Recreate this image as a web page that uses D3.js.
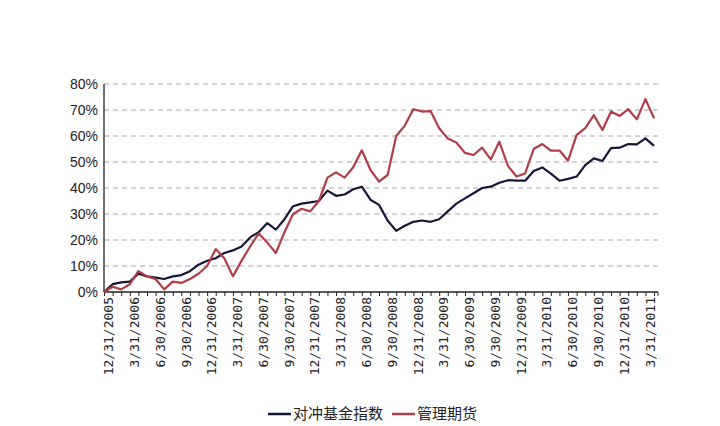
<!DOCTYPE html>
<html>
<head>
<meta charset="utf-8">
<script src="https://cdn.jsdelivr.net/npm/d3@7.9.0/dist/d3.min.js"></script>
<style>
  body { margin: 0; background: #fff; }
  svg { display: block; }
  .grid line { stroke: #a8a8a8; stroke-dasharray: 5,4; stroke-width: 1; }
  .ylab { font-family: "Liberation Sans Narrow", "Arial Narrow", sans-serif; font-size: 14px; fill: #222; }
  .xlab text { font-family: "DejaVu Sans Mono", monospace; font-size: 13px; fill: #222; }
  .legend text { font-family: "Noto Sans CJK SC", sans-serif; font-size: 15px; fill: #222; }
</style>
</head>
<body>
<div id="chart"></div>
<script>
// quarterly tick labels (every 3rd month, starting at month 0)
const tickLabels = ["12/31/2005", "3/31/2006", "6/30/2006", "9/30/2006", "12/31/2006",
  "3/31/2007", "6/30/2007", "9/30/2007", "12/31/2007", "3/31/2008", "6/30/2008",
  "9/30/2008", "12/31/2008", "3/31/2009", "6/30/2009", "9/30/2009", "12/31/2009",
  "3/31/2010", "6/30/2010", "9/30/2010", "12/31/2010", "3/31/2011"];

const seriesNames = ["对冲基金指数", "管理期货"];

// cumulative return in %, monthly from 12/2005 to 4/2011
const hedgeFund = [0, 3, 3.7, 4, 7, 6, 5.5, 5, 6, 6.5,
  8, 10.5, 12, 13, 15, 16, 17.5, 21, 23, 26.5,
  24, 28, 33, 34, 34.5, 35, 39, 37, 37.5, 39.5,
  40.5, 35.5, 33.5, 27.5, 23.5, 25.5, 27, 27.5, 27, 28,
  31, 34, 36, 38, 40, 40.5, 42, 43, 42.8, 42.8,
  46.5, 47.9, 45.5, 42.8, 43.5, 44.4, 48.8, 51.4, 50.4, 55.3,
  55.5, 56.9, 56.8, 59.1, 56.2];

const managedFutures = [0, 2, 1, 3, 8, 6, 5, 1, 4, 3.5,
  5, 7, 10, 16.5, 13, 6, 12, 17.5, 22.5, 19,
  15, 23, 30, 32, 31, 35, 44, 46, 44, 48,
  54.5, 47, 42.5, 45, 60, 64, 70.3, 69.4, 69.6, 63,
  59, 57.5, 53.5, 52.7, 55.5, 51, 57.8, 48.5, 44.4, 45.6,
  55, 56.9, 54.4, 54.4, 50.5, 60.4, 63, 68, 62.3, 69.4,
  67.7, 70.3, 66.4, 74.2, 66.8];

const yTicks = [0, 10, 20, 30, 40, 50, 60, 70, 80];

const W = 720, H = 426;
const margin = { top: 84, right: 62, bottom: 134, left: 104 };
const innerW = W - margin.left - margin.right;   // axis length
const innerH = H - margin.top - margin.bottom;
const step = 8.594;                                // px per month
const nMonths = hedgeFund.length;

const svg = d3.select("#chart").append("svg")
  .attr("width", W).attr("height", H);

const g = svg.append("g")
  .attr("transform", `translate(${margin.left},${margin.top})`);

const x = d3.scaleLinear().domain([0, nMonths - 1]).range([0, step * (nMonths - 1)]);
const y = d3.scaleLinear().domain([0, 80]).range([innerH, 0]);

// dashed grid lines
g.append("g").attr("class", "grid")
  .selectAll("line")
  .data(yTicks.filter(d => d > 0))
  .join("line")
  .attr("x1", 0).attr("x2", innerW)
  .attr("y1", d => y(d)).attr("y2", d => y(d));

// y labels
g.selectAll("text.ylab")
  .data(yTicks)
  .join("text")
  .attr("class", "ylab")
  .attr("x", -6)
  .attr("y", d => y(d))
  .attr("dy", "0.36em")
  .attr("text-anchor", "end")
  .text(d => d + "%");

// y axis line
g.append("line")
  .attr("x1", 0).attr("x2", 0)
  .attr("y1", 0).attr("y2", innerH)
  .attr("stroke", "#222").attr("stroke-width", 1.3);

// x axis with monthly ticks
const xAxis = d3.axisBottom(x)
  .tickValues(d3.range(nMonths))
  .tickSize(4)
  .tickFormat("");
const xg = g.append("g")
  .attr("transform", `translate(0,${innerH})`)
  .call(xAxis);
xg.select(".domain").attr("d", `M0,0H${innerW}`).attr("stroke", "#222").attr("stroke-width", 1.3);
xg.selectAll(".tick line").attr("stroke", "#222");
xg.append("line").attr("x1", innerW).attr("x2", innerW).attr("y1", 0).attr("y2", 4).attr("stroke", "#222");

// quarterly rotated labels
const labAxis = d3.axisBottom(x)
  .tickValues(tickLabels.map((_, i) => i * 3))
  .tickSize(0)
  .tickFormat((d, i) => tickLabels[i]);
const lg = g.append("g")
  .attr("class", "xlab")
  .attr("transform", `translate(0,${innerH})`)
  .call(labAxis);
lg.select(".domain").remove();
lg.selectAll("text")
  .attr("transform", "rotate(-90)")
  .attr("text-anchor", "end")
  .attr("x", -5)
  .attr("y", 4)
  .attr("dy", "0.36em");

// lines
const colors = ["#16163a", "#b23c48"];
const line = d3.line().x((d, i) => x(i)).y(d => y(d));

[hedgeFund, managedFutures].forEach((s, k) => {
  g.append("path")
    .datum(s)
    .attr("fill", "none")
    .attr("stroke", colors[k])
    .attr("stroke-width", 2.2)
    .attr("stroke-linejoin", "round")
    .attr("d", line);
});

// legend
const legend = svg.append("g").attr("class", "legend")
  .attr("transform", "translate(0,414)");
const legendX = [268, 392];
seriesNames.forEach((name, k) => {
  legend.append("line")
    .attr("x1", legendX[k]).attr("x2", legendX[k] + 23)
    .attr("y1", 0).attr("y2", 0)
    .attr("stroke", colors[k]).attr("stroke-width", 2.5);
  legend.append("text")
    .attr("x", legendX[k] + 25)
    .attr("y", 0)
    .attr("dy", "0.36em")
    .text(name);
});
</script>
</body>
</html>
